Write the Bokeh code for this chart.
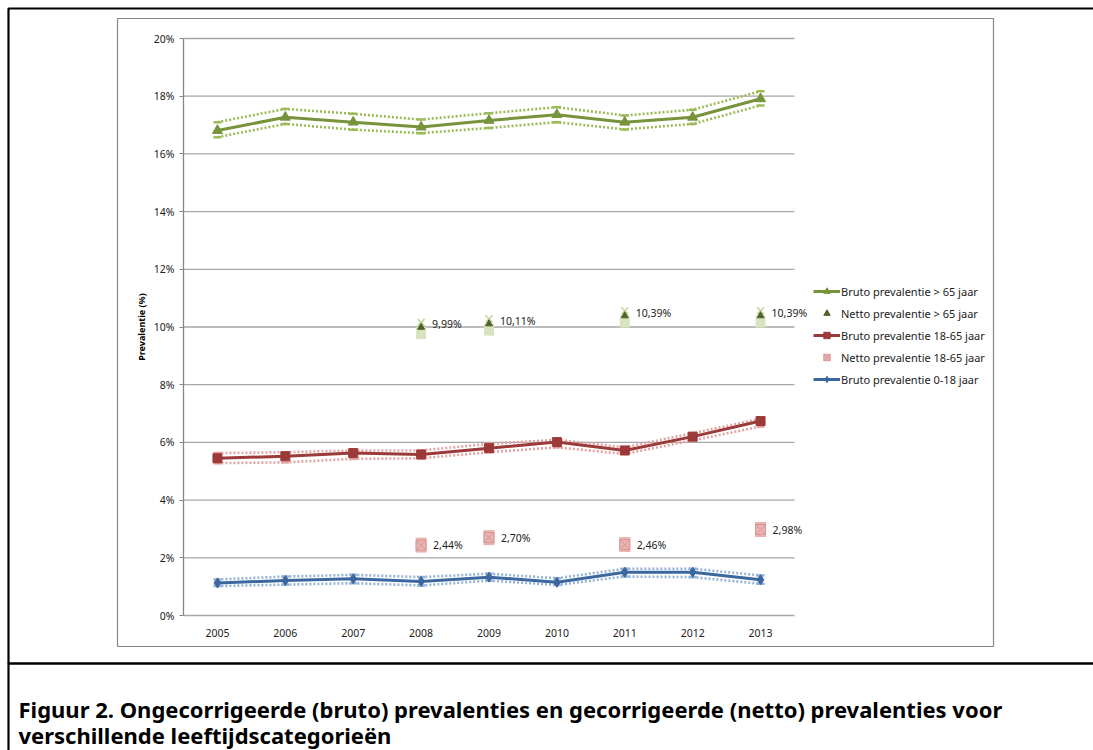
from bokeh.plotting import figure
from bokeh.models import (Legend, LegendItem, BoxAnnotation, Label, FixedTicker,
                          Range1d, LinearAxis)
from bokeh.embed import file_html
from bokeh.resources import INLINE
from bokeh.core.properties import value

# ---------------- data ----------------
years = [2005, 2006, 2007, 2008, 2009, 2010, 2011, 2012, 2013]

bruto_65 = [16.81, 17.27, 17.10, 16.93, 17.16, 17.36, 17.10, 17.27, 17.91]
bruto_65_hi = [17.10, 17.56, 17.39, 17.19, 17.41, 17.62, 17.33, 17.53, 18.17]
bruto_65_lo = [16.58, 17.04, 16.84, 16.72, 16.90, 17.10, 16.85, 17.04, 17.68]

bruto_1865 = [5.45, 5.52, 5.63, 5.58, 5.80, 6.01, 5.72, 6.20, 6.74]
bruto_1865_hi = [5.63, 5.66, 5.72, 5.72, 5.95, 6.09, 5.83, 6.32, 6.82]
bruto_1865_lo = [5.28, 5.31, 5.43, 5.45, 5.66, 5.83, 5.60, 6.07, 6.55]

bruto_018 = [1.13, 1.21, 1.27, 1.18, 1.33, 1.15, 1.50, 1.50, 1.24]
bruto_018_hi = [1.25, 1.35, 1.41, 1.33, 1.45, 1.29, 1.62, 1.62, 1.39]
bruto_018_lo = [1.02, 1.07, 1.12, 1.04, 1.21, 1.06, 1.35, 1.33, 1.10]

netto_years = [2008, 2009, 2011, 2013]
netto_65 = [9.99, 10.11, 10.39, 10.39]
netto_1865 = [2.44, 2.70, 2.46, 2.98]

y_ticks = [0, 2, 4, 6, 8, 10, 12, 14, 16, 18, 20]

legend_labels = ["Bruto prevalentie > 65 jaar", "Netto prevalentie > 65 jaar",
                 "Bruto prevalentie 18-65 jaar", "Netto prevalentie 18-65 jaar",
                 "Bruto prevalentie 0-18 jaar"]
caption_1 = "Figuur 2. Ongecorrigeerde (bruto) prevalenties en gecorrigeerde (netto) prevalenties voor"
caption_2 = "verschillende leeftijdscategorieën"
y_label = "Prevalentie (%)"


def pct(v):
    return ("%.2f%%" % v).replace(".", ",")


# ---------------- page geometry (pixels) ----------------
W, H = 1093, 750
PLOT_L, PLOT_R, PLOT_T, PLOT_B = 183, 794, 38, 615
X0, X1 = years[0] - 0.5, years[-1] + 0.5
Y0, Y1 = y_ticks[0], y_ticks[-1]
SX = (PLOT_R - PLOT_L) / (X1 - X0)
SY = (PLOT_B - PLOT_T) / (Y1 - Y0)


def xd(px):
    return X0 + (px - PLOT_L) / SX


def yd(py):
    return Y0 + (PLOT_B - py) / SY


FONT = "Noto Sans"
p = figure(width=W, height=H, output_backend="svg", toolbar_location=None,
           x_range=Range1d(xd(0), xd(W)), y_range=Range1d(yd(H), yd(0)),
           x_axis_location=None, y_axis_location=None,
           min_border=0, min_border_left=0, min_border_right=0,
           min_border_top=0, min_border_bottom=0,
           background_fill_color="white", border_fill_color="white")
p.outline_line_color = None
p.xgrid.grid_line_color = None
p.ygrid.grid_line_color = None


# ---------------- frames ----------------
def box(l, r, t, b, color, width):
    p.add_layout(BoxAnnotation(left=xd(l), right=xd(r), top=yd(t), bottom=yd(b),
                               fill_color=None, fill_alpha=0,
                               line_color=color, line_alpha=1.0, line_width=width,
                               level="underlay"))


box(117, 993, 18, 646, "#868686", 1.2)   # chart area
box(8, 1096, 8, 663, "#000000", 2.2)      # outer frame (top part)
box(8, 1096, 663, 760, "#000000", 2.2)    # caption cell

# ---------------- grid lines ----------------
grid_y = y_ticks[1:]
p.segment(x0=[X0] * len(grid_y), y0=grid_y, x1=[X1] * len(grid_y), y1=grid_y,
          line_color="#a6a6a6", line_width=1.3)

# ---------------- axes ----------------
yaxis = LinearAxis(fixed_location=X0, bounds=(Y0, Y1), ticker=FixedTicker(ticks=y_ticks))
yaxis.major_label_overrides = {t: "%d%%" % t for t in y_ticks}
yaxis.minor_tick_line_color = None
yaxis.major_tick_line_color = "#868686"
yaxis.major_tick_out = 4
yaxis.major_tick_in = 0
yaxis.axis_line_color = "#868686"
yaxis.axis_line_width = 1.3
yaxis.major_label_text_font = FONT
yaxis.major_label_text_font_size = "10.5px"
yaxis.major_label_text_color = "#222222"
yaxis.major_label_standoff = 5
yaxis.axis_label = y_label
yaxis.axis_label_text_font = FONT
yaxis.axis_label_text_font_size = "9px"
yaxis.axis_label_text_font_style = "bold"
yaxis.axis_label_text_color = "#000000"
yaxis.axis_label_standoff = 3
p.add_layout(yaxis, "left")

xaxis = LinearAxis(fixed_location=Y0, bounds=(X0, X1), ticker=FixedTicker(ticks=years))
xaxis.major_tick_line_color = None
xaxis.minor_tick_line_color = None
xaxis.axis_line_color = "#a6a6a6"
xaxis.axis_line_width = 1.3
xaxis.major_label_text_font = FONT
xaxis.major_label_text_font_size = "10.5px"
xaxis.major_label_text_color = "#222222"
xaxis.major_label_standoff = 7
p.add_layout(xaxis, "below")

# ---------------- series ----------------
G_LINE, G_DOT, G_DARK, G_LIGHT = "#77933c", "#9bbb59", "#4f6228", "#d7e4bd"
R_LINE, R_DOT, R_LIGHT = "#9b3a38", "#e3a3a2", "#e8b4b3"
B_LINE, B_DOT = "#3c679e", "#95b3d7"


def band(xs, ys, color):
    p.line(xs, ys, line_color=color, line_width=2.6, line_dash="2 2")
    p.scatter(xs, ys, marker="dash", size=8, line_color=color, line_width=2.5)


band(years, bruto_65_hi, G_DOT)
band(years, bruto_65_lo, G_DOT)
g_line = p.line(years, bruto_65, line_color=G_LINE, line_width=3)
g_mark = p.scatter(years, bruto_65, marker="triangle", size=10, fill_color=G_LINE, line_color=G_LINE)

band(years, bruto_1865_hi, R_DOT)
band(years, bruto_1865_lo, R_DOT)
r_line = p.line(years, bruto_1865, line_color=R_LINE, line_width=3)
r_mark = p.scatter(years, bruto_1865, marker="square", size=9, fill_color=R_LINE, line_color=R_LINE)

band(years, bruto_018_hi, B_DOT)
band(years, bruto_018_lo, B_DOT)
b_line = p.line(years, bruto_018, line_color=B_LINE, line_width=3)
b_mark = p.scatter(years, bruto_018, marker="diamond", size=10, fill_color=B_LINE, line_color=B_LINE)

# netto > 65 markers (light box below, cross above, dark triangle)
p.rect(netto_years, [v - 0.20 for v in netto_65], width=10, height=12,
       width_units="screen", height_units="screen", fill_color=G_LIGHT, line_color=None)
p.scatter(netto_years, [v + 0.17 for v in netto_65], marker="x", size=10,
          line_color="#c3d69b", line_width=1.5)
ng_mark = p.scatter(netto_years, netto_65, marker="triangle", size=7,
                    fill_color=G_DARK, line_color=G_DARK)
p.text(netto_years, netto_65, text=[pct(v) for v in netto_65], x_offset=11, y_offset=-3,
       text_baseline="middle", text_font=value(FONT), text_font_size="10.5px", text_color="#222222")

# netto 18-65 markers
p.rect(netto_years, netto_1865, width=11, height=15, width_units="screen", height_units="screen",
       fill_color=R_LIGHT, line_color=None)
nr_mark = p.scatter(netto_years, netto_1865, marker="square_x", size=10,
                    fill_color=R_LIGHT, line_color="#d99694", line_width=1)
p.text(netto_years, netto_1865, text=[pct(v) for v in netto_1865], x_offset=12,
       text_baseline="middle", text_font=value(FONT), text_font_size="10.5px", text_color="#222222")

# ---------------- legend ----------------
legend = Legend(items=[
    LegendItem(label=legend_labels[0], renderers=[g_line, g_mark]),
    LegendItem(label=legend_labels[1], renderers=[ng_mark]),
    LegendItem(label=legend_labels[2], renderers=[r_line, r_mark]),
    LegendItem(label=legend_labels[3], renderers=[nr_mark]),
    LegendItem(label=legend_labels[4], renderers=[b_line, b_mark]),
], location=(813, H - 387))
legend.background_fill_alpha = 0
legend.border_line_color = None
legend.padding = 0
legend.margin = 0
legend.spacing = 6
legend.glyph_width = 27
legend.glyph_height = 16
legend.label_height = 16
legend.label_standoff = 1
legend.label_text_font = FONT
legend.label_text_font_size = "11px"
legend.label_text_color = "#222222"
p.add_layout(legend)

# ---------------- caption ----------------
for txt, py in [(caption_1, 708), (caption_2, 734)]:
    p.add_layout(Label(x=xd(18), y=yd(py), text=txt,
                       text_font=FONT, text_font_size="22px", text_font_style="bold",
                       text_baseline="middle", text_color="#000000"))

open("out.html", "w").write(file_html(p, INLINE))
